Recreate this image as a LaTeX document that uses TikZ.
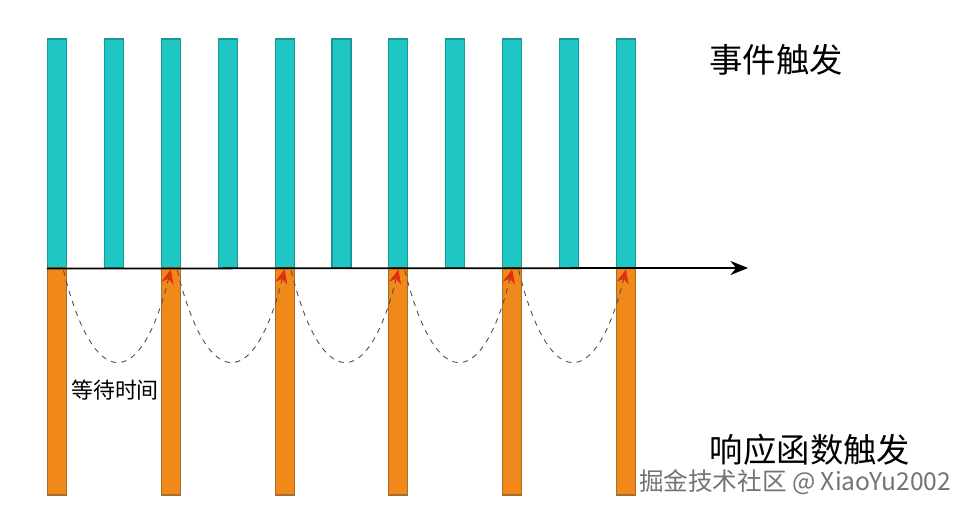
\documentclass[tikz,border=0pt]{standalone}
\usepackage{fontspec}
\newfontfamily\cjk{Noto Sans CJK SC}
\usetikzlibrary{arrows.meta}
\definecolor{evfill}{RGB}{30,198,196}
\definecolor{evedge}{RGB}{25,150,150}
\definecolor{rsfill}{RGB}{240,136,26}
\definecolor{rsedge}{RGB}{165,110,45}
\definecolor{tipred}{RGB}{225,45,20}

\begin{document}
\begin{tikzpicture}[x=0.02cm,y=-0.02cm,
    evbar/.style={draw=evedge,fill=evfill,line width=0.6pt,minimum width=0.38cm,minimum height=4.58cm,inner sep=0pt},
    rsbar/.style={draw=rsedge,fill=rsfill,line width=0.6pt,minimum width=0.38cm,minimum height=4.54cm,inner sep=0pt},
    waitline/.style={dashed,draw=black!70,line width=0.5pt,-{Stealth[length=8pt,width=7pt,color=tipred]}},
    label/.style={font=\cjk\fontsize{19}{19}\selectfont}]
        \useasboundingbox (0,0) rectangle (973,513);
        \foreach \i in {1,...,11}{
                \node[evbar] (e\i) at ({57+56.9*(\i-1)},153.5) {};
        };
        \foreach \i in {1,3,...,11}{
                \node[rsbar] (o\i) at ({57+56.9*(\i-1)},381.5) {};
        };
        \coordinate (axend) at (748,268);
        \draw[line width=1pt,-{Stealth[length=10pt,width=8pt]}] (e1.south west) -- (axend);
        \foreach \i/\j in {1/3,3/5,5/7,7/9,9/11}{
                \draw[waitline] ([xshift=-0.07cm,yshift=-0.06cm]o\i.north east) .. controls +(30,122) and +(-30,122) .. ([yshift=-0.04cm]o\j.north);
        };
        \node[label] (evtext) at (776,60) {事件触发};
        \node[label] (rstext) at (810,450) {响应函数触发};
        \node[font=\cjk\fontsize{12.5}{12.5}\selectfont] (waittext) at (115,390) {等待时间};
        \node[font=\cjk\fontsize{14}{14}\selectfont,text=black!55] (mark) at (795,482) {掘金技术社区 @ XiaoYu2002};
    \end{tikzpicture}
\end{document}
